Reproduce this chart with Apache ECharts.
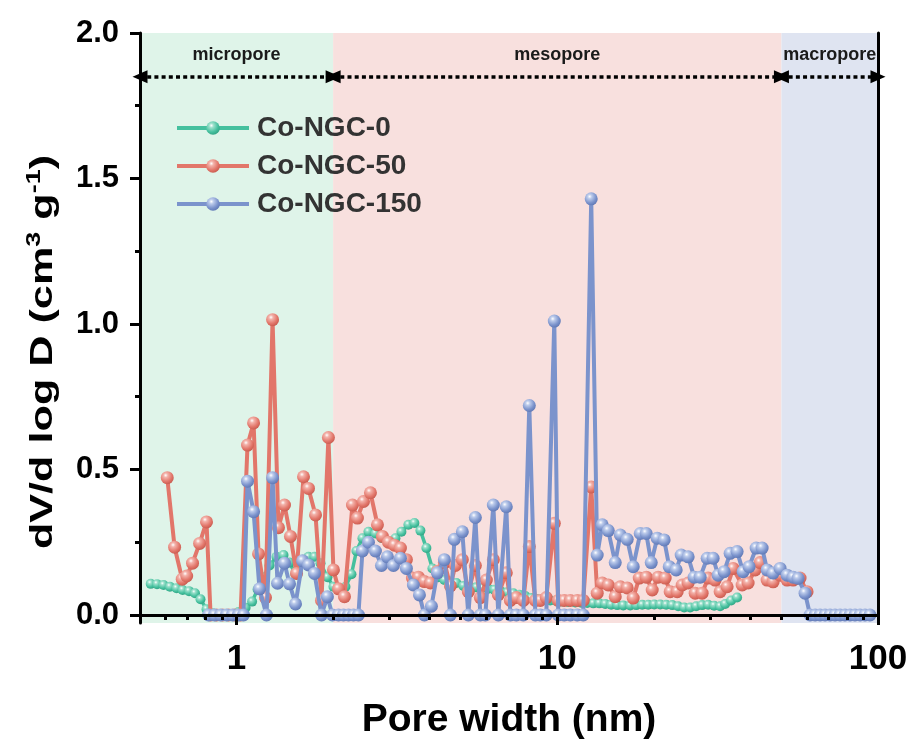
<!DOCTYPE html>
<html>
<head>
<meta charset="utf-8">
<script src="https://cdn.jsdelivr.net/npm/echarts@6/dist/echarts.min.js"></script>
<style>
  html, body { margin: 0; padding: 0; background: #ffffff; }
  #chart { width: 912px; height: 746px; }
</style>
</head>
<body>
<div id="chart"></div>
<script>
// Pore size distribution (dV/d log D) of three Co-NGC samples.

// Co-NGC-0
const widthNGC0 = [0.540, 0.565, 0.592, 0.620, 0.650, 0.679, 0.711, 0.742, 0.772, 0.806,
  0.842, 0.879, 0.924, 0.972, 1.014, 1.067, 1.118, 1.163, 1.214, 1.267,
  1.332, 1.401, 1.463, 1.527, 1.606, 1.676, 1.750, 1.827, 1.920, 2.005,
  2.094, 2.186, 2.282, 2.365, 2.469, 2.578, 2.710, 2.830, 2.976, 3.129,
  3.266, 3.434, 3.585, 3.743, 3.908, 4.080, 4.259, 4.446, 4.642, 4.846,
  5.095, 5.358, 5.593, 5.839, 6.095, 6.364, 6.643, 6.985, 7.293, 7.613,
  7.948, 8.298, 8.661, 9.043, 9.51, 9.93, 10.37, 10.82, 11.38, 11.88,
  12.40, 12.95, 13.52, 14.11, 14.73, 15.38, 16.06, 16.88, 17.63, 18.40,
  19.21, 20.06, 20.94, 21.86, 22.82, 23.82, 24.87, 25.96, 27.10, 28.29,
  29.54, 30.84, 32.19, 33.37, 34.84, 36.37];
const valueNGC0 = [0.107, 0.106, 0.103, 0.097, 0.092, 0.086, 0.082, 0.075, 0.054, 0.020,
  0.006, 0.0, 0.0, 0.0, 0.010, 0.025, 0.046, 0.088, 0.130, 0.170,
  0.200, 0.206, 0.180, 0.140, 0.190, 0.200, 0.200, 0.178, 0.130, 0.097,
  0.090, 0.097, 0.140, 0.220, 0.264, 0.286, 0.280, 0.265, 0.250, 0.264,
  0.286, 0.310, 0.316, 0.290, 0.230, 0.160, 0.130, 0.120, 0.115, 0.110,
  0.100, 0.097, 0.095, 0.093, 0.090, 0.087, 0.083, 0.078, 0.075, 0.070,
  0.065, 0.058, 0.055, 0.052, 0.050, 0.048, 0.046, 0.045, 0.043, 0.042,
  0.041, 0.040, 0.040, 0.038, 0.035, 0.034, 0.033, 0.033, 0.034, 0.035,
  0.035, 0.036, 0.036, 0.035, 0.034, 0.030, 0.026, 0.026, 0.030, 0.034,
  0.035, 0.032, 0.030, 0.038, 0.050, 0.060];

// Co-NGC-50
const widthNGC50 = [0.608, 0.641, 0.677, 0.699, 0.729, 0.767, 0.806, 0.830, 0.866, 0.905,
  0.944, 0.986, 1.029, 1.082, 1.130, 1.171, 1.231, 1.295, 1.351, 1.411,
  1.473, 1.538, 1.617, 1.676, 1.763, 1.840, 1.934, 2.005, 2.079, 2.170,
  2.298, 2.382, 2.487, 2.615, 2.750, 2.850, 2.976, 3.106, 3.243, 3.385,
  3.534, 3.690, 3.852, 4.022, 4.229, 4.446, 4.642, 4.811, 5.058, 5.281,
  5.554, 5.756, 6.009, 6.319, 6.549, 6.935, 7.140, 7.452, 7.836, 8.180,
  8.543, 8.851, 9.242, 9.788, 10.07, 10.51, 10.98, 11.54, 12.05, 12.76,
  13.32, 13.81, 14.42, 15.16, 15.72, 16.52, 17.25, 18.01, 18.94, 19.77,
  20.63, 21.70, 22.49, 23.65, 24.52, 25.59, 26.91, 28.29, 29.54, 31.06,
  32.19, 33.85, 35.34, 37.70, 39.36, 41.39, 42.90, 45.11, 47.09, 49.52,
  52.07, 54.36, 57.15, 60.09];
const valueNGC50 = [0.472, 0.233, 0.123, 0.134, 0.178, 0.246, 0.320, 0.0, 0.0, 0.0,
  0.0, 0.0, 0.0, 0.584, 0.660, 0.210, 0.060, 1.015, 0.300, 0.378,
  0.270, 0.143, 0.475, 0.435, 0.344, 0.050, 0.610, 0.155, 0.090, 0.063,
  0.378, 0.333, 0.390, 0.420, 0.310, 0.270, 0.250, 0.240, 0.230, 0.190,
  0.127, 0.130, 0.115, 0.110, 0.150, 0.180, 0.100, 0.170, 0.190, 0.080,
  0.170, 0.060, 0.120, 0.190, 0.070, 0.145, 0.050, 0.060, 0.050, 0.235,
  0.050, 0.050, 0.060, 0.315, 0.050, 0.050, 0.050, 0.050, 0.050, 0.440,
  0.075, 0.110, 0.103, 0.063, 0.097, 0.093, 0.058, 0.127, 0.130, 0.086,
  0.130, 0.127, 0.080, 0.080, 0.103, 0.110, 0.075, 0.075, 0.127, 0.120,
  0.080, 0.097, 0.160, 0.103, 0.110, 0.155, 0.180, 0.120, 0.114, 0.137,
  0.120, 0.120, 0.127, 0.080];

// Co-NGC-150
const widthNGC150 = [0.818, 0.854, 0.892, 0.931, 0.972, 1.014, 1.051, 1.082, 1.130, 1.179,
  1.240, 1.295, 1.342, 1.411, 1.463, 1.527, 1.606, 1.676, 1.750, 1.840,
  1.920, 1.991, 2.079, 2.154, 2.234, 2.315, 2.399, 2.469, 2.578, 2.710,
  2.830, 2.954, 3.084, 3.243, 3.385, 3.559, 3.717, 3.852, 4.051, 4.229,
  4.446, 4.642, 4.777, 5.058, 5.281, 5.554, 5.756, 5.966, 6.319, 6.549,
  6.935, 7.140, 7.452, 7.836, 8.180, 8.543, 8.851, 9.242, 9.788, 10.07,
  10.51, 10.98, 11.54, 12.05, 12.76, 13.32, 13.81, 14.42, 15.16, 15.72,
  16.52, 17.25, 18.14, 18.94, 19.63, 20.49, 21.54, 22.34, 23.48, 24.34,
  25.59, 26.72, 27.89, 29.33, 30.62, 31.74, 33.13, 34.59, 36.37, 37.96,
  39.64, 41.69, 43.52, 45.11, 47.09, 49.52, 52.07, 54.36, 56.34, 59.24,
  61.41, 63.68, 65.97, 68.39, 70.87, 73.45, 76.16, 78.89, 81.81, 84.76,
  87.91, 91.1, 94.4];
const valueNGC150 = [0.0, 0.0, 0.0, 0.0, 0.0, 0.0, 0.0, 0.460, 0.355, 0.090,
  0.0, 0.472, 0.109, 0.178, 0.107, 0.038, 0.186, 0.172, 0.143, 0.0,
  0.063, 0.0, 0.0, 0.0, 0.0, 0.0, 0.0, 0.220, 0.250, 0.220,
  0.170, 0.200, 0.170, 0.195, 0.160, 0.103, 0.069, 0.0, 0.030, 0.145,
  0.190, 0.0, 0.260, 0.286, 0.0, 0.335, 0.0, 0.0, 0.378, 0.0,
  0.372, 0.0, 0.0, 0.0, 0.720, 0.0, 0.0, 0.0, 1.010, 0.0,
  0.0, 0.0, 0.0, 0.0, 1.430, 0.206, 0.310, 0.290, 0.180, 0.275,
  0.260, 0.166, 0.280, 0.280, 0.180, 0.264, 0.258, 0.166, 0.155, 0.206,
  0.200, 0.130, 0.130, 0.195, 0.195, 0.137, 0.149, 0.212, 0.218, 0.149,
  0.166, 0.230, 0.230, 0.155, 0.144, 0.160, 0.137, 0.130, 0.126, 0.075,
  0.0, 0.0, 0.0, 0.0, 0.0, 0.0, 0.0, 0.0, 0.0, 0.0,
  0.0, 0.0, 0.0];

const seriesNames = ['Co-NGC-0', 'Co-NGC-50', 'Co-NGC-150'];

// Pore-size regimes (nm) shaded behind the curves
const regimeNames = ['micropore', 'mesopore', 'macropore'];
const regimeBounds = [[0.5, 2], [2, 50], [50, 100]];
const regimeColors = ['#dff4e9', '#f8e0de', '#dfe4f1'];
const arrowLevel = 1.85;

const xMajorTicks = [1, 10, 100];
const xMinorTicks = [0.6, 0.7, 0.8, 0.9, 2, 3, 4, 5, 6, 7, 8, 9, 20, 30, 40, 50, 60, 70, 80, 90];
const yMajorTicks = [0, 0.5, 1.0, 1.5, 2.0];
const yMinorTicks = [0.25, 0.75, 1.25, 1.75];

const FONT = '"Liberation Sans", Arial, sans-serif';

function pairs(xs, ys) {
  return xs.map((x, i) => [x, ys[i]]);
}

// glossy ball look for the markers
function sphere(light, base, dark) {
  return {
    type: 'radial', x: 0.38, y: 0.32, r: 0.75,
    colorStops: [
      { offset: 0, color: '#ffffff' },
      { offset: 0.22, color: light },
      { offset: 0.65, color: base },
      { offset: 1, color: dark }
    ]
  };
}

const palette = [
  { line: '#45c09e', light: '#9be0cb', dark: '#2f9e7f', size: 10, width: 3.5 },
  { line: '#e2766a', light: '#f3b2aa', dark: '#c4564a', size: 13, width: 4 },
  { line: '#7b93cc', light: '#bccbeb', dark: '#5a73b0', size: 13, width: 4 }
];

const dataSets = [
  pairs(widthNGC0, valueNGC0),
  pairs(widthNGC50, valueNGC50),
  pairs(widthNGC150, valueNGC150)
];

const series = dataSets.map((d, i) => ({
  name: seriesNames[i],
  type: 'line',
  data: d,
  xAxisIndex: 0,
  yAxisIndex: 0,
  symbol: 'circle',
  symbolSize: palette[i].size,
  showAllSymbol: true,
  lineStyle: { color: palette[i].line, width: palette[i].width },
  itemStyle: { color: sphere(palette[i].light, palette[i].line, palette[i].dark) },
  z: 3 + i,
  clip: false,
  animation: false
}));

// Shaded regimes and dotted double arrows
series[0].markArea = {
  silent: true,
  data: regimeBounds.map((b, i) => [
    { xAxis: b[0], itemStyle: { color: regimeColors[i] } },
    { xAxis: b[1] }
  ])
};
series[0].markLine = {
  silent: true,
  animation: false,
  symbol: ['triangle', 'triangle'],
  symbolSize: [13, 15],
  lineStyle: { color: '#000', width: 3.5, type: [4, 3.2], cap: 'butt' },
  label: {
    show: true,
    position: 'insideMiddleTop',
    formatter: '{b}',
    color: '#1a1a1a',
    fontFamily: FONT,
    fontWeight: 'bold',
    fontSize: 18,
    distance: 13
  },
  data: regimeBounds.map((b, i) => [
    { coord: [b[0], arrowLevel], name: regimeNames[i] },
    { coord: [b[1], arrowLevel] }
  ])
};

const axisBlack = { color: '#000', width: 3 };

const option = {
  animation: false,
  backgroundColor: '#ffffff',
  textStyle: { fontFamily: FONT },
  grid: { left: 140, right: 34, top: 33, bottom: 123 },
  legend: {
    orient: 'vertical',
    left: 175,
    top: 114,
    padding: 0,
    itemWidth: 72,
    itemHeight: 17,
    itemGap: 10,
    lineStyle: { width: 4 },
    data: seriesNames,
    textStyle: { fontFamily: FONT, fontWeight: 'bold', fontSize: 28, color: '#333333', padding: [0, 0, 0, 3] }
  },
  // y-axis title, stretched along its length
  graphic: [{
    type: 'text',
    x: 43,
    y: 352,
    rotation: Math.PI / 2,
    scaleX: 1.35,
    style: {
      text: '{t|dV/d log D (cm}{s|3}{t| g}{s|-1}{t|)}',
      align: 'center',
      verticalAlign: 'middle',
      rich: {
        t: { fontFamily: FONT, fontWeight: 'bold', fontSize: 32, fill: '#000' },
        s: { fontFamily: FONT, fontWeight: 'bold', fontSize: 20, fill: '#000', padding: [0, 0, 17, 0] }
      }
    }
  }],
  xAxis: [
    {
      type: 'log', logBase: 10, min: 0.5, max: 100, position: 'bottom', z: 10,
      axisLine: { lineStyle: axisBlack },
      axisTick: { show: true, inside: false, length: 10, lineStyle: axisBlack, customValues: xMajorTicks },
      axisLabel: {
        customValues: xMajorTicks, margin: 19, color: '#000',
        fontFamily: FONT, fontWeight: 'bold', fontSize: 35
      },
      splitLine: { show: false },
      name: 'Pore width (nm)', nameLocation: 'middle', nameGap: 78,
      nameTextStyle: { fontFamily: FONT, fontWeight: 'bold', fontSize: 39, color: '#000' }
    },
    {
      type: 'log', logBase: 10, min: 0.5, max: 100, position: 'bottom', z: 10,
      axisLine: { show: false },
      axisTick: { show: true, inside: false, length: 5, lineStyle: axisBlack, customValues: xMinorTicks },
      axisLabel: { show: false },
      splitLine: { show: false }
    },
    {
      type: 'log', logBase: 10, min: 0.5, max: 100, position: 'top', z: 10,
      axisLine: { lineStyle: axisBlack },
      axisTick: { show: false },
      axisLabel: { show: false },
      splitLine: { show: false }
    }
  ],
  yAxis: [
    {
      type: 'value', min: -0.0275, max: 2.0, position: 'left', z: 10,
      axisLine: { show: true, lineStyle: axisBlack },
      axisTick: { show: true, inside: false, length: 10, lineStyle: axisBlack, customValues: yMajorTicks },
      axisLabel: {
        customValues: yMajorTicks, margin: 21, color: '#000',
        fontFamily: FONT, fontWeight: 'bold', fontSize: 31,
        formatter: v => v.toFixed(1)
      },
      splitLine: { show: false }
    },
    {
      type: 'value', min: -0.0275, max: 2.0, position: 'left', z: 10,
      axisLine: { show: false },
      axisTick: { show: true, inside: false, length: 5, lineStyle: axisBlack, customValues: yMinorTicks },
      axisLabel: { show: false },
      splitLine: { show: false }
    },
    {
      type: 'value', min: -0.0275, max: 2.0, position: 'right', z: 10,
      axisLine: { show: true, lineStyle: axisBlack },
      axisTick: { show: false },
      axisLabel: { show: false },
      splitLine: { show: false }
    }
  ],
  series: series
};

const chart = echarts.init(document.getElementById('chart'), null, { renderer: 'canvas' });
chart.setOption(option);
</script>
</body>
</html>
